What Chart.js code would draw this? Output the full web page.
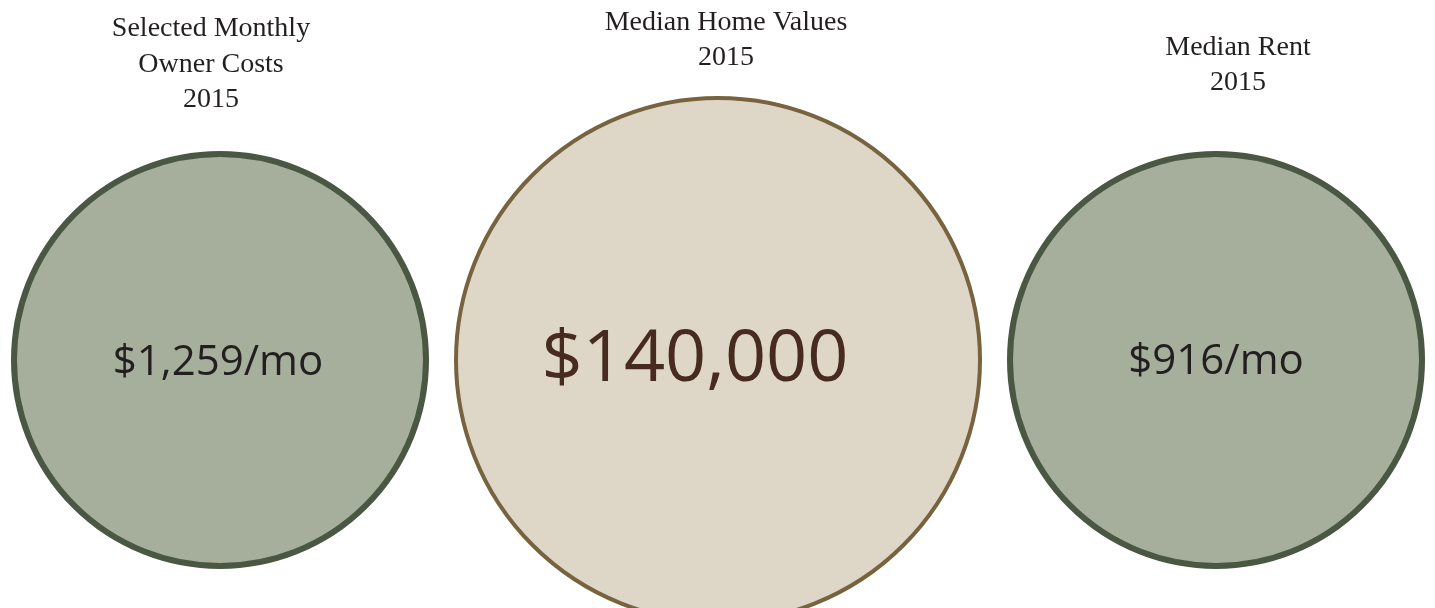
<!DOCTYPE html>
<html>
<head>
<meta charset="utf-8">
<script src="https://cdn.jsdelivr.net/npm/chart.js@4"></script>
<style>
  html, body { margin: 0; padding: 0; background: #fff; }
  #wrap { width: 1435px; height: 608px; }
</style>
</head>
<body>
<div id="wrap"><canvas id="circles"></canvas></div>
<script>
// data
const categories = ['Selected Monthly Owner Costs', 'Median Home Values', 'Median Rent'];
const titleLines = [
  ['Selected Monthly', 'Owner Costs', '2015'],
  ['Median Home Values', '2015'],
  ['Median Rent', '2015']
];
const values = [1259, 140000, 916];
const units = ['/mo', '', '/mo'];

// styles
const fills = ['#a6af9b', '#ded7c7', '#a6af9b'];
const borders = ['#4a5743', '#77643f', '#4a5743'];
const borderWidths = [6, 4, 6];
const radii = [206, 262, 206];
const textColors = ['#231f20', '#472b20', '#231f20'];
const valueFontSizes = [42, 72, 42];
const valueOffsetX = [-2, -23, 0];
const valueOffsetY = [15, 21, 14];
const titleOffsetX = [-9, 8, 22];
const titleBaselines = [[36, 72, 107], [30, 65], [55, 90]];

function fmtValue(v, unit) {
  return '$' + v.toLocaleString('en-US') + unit;
}

const textPlugin = {
  id: 'circleText',
  afterDatasetsDraw(chart) {
    const c = chart.ctx;
    const meta = chart.getDatasetMeta(0);
    c.save();
    c.textAlign = 'center';
    c.textBaseline = 'alphabetic';
    meta.data.forEach((pt, i) => {
      c.fillStyle = textColors[i];
      c.font = valueFontSizes[i] + 'px "Open Sans", sans-serif';
      c.fillText(fmtValue(values[i], units[i]), pt.x + valueOffsetX[i], pt.y + valueOffsetY[i]);

      c.fillStyle = '#231f20';
      c.font = '28px "Liberation Serif", serif';
      titleLines[i].forEach((line, j) => {
        c.fillText(line, pt.x + titleOffsetX[i], titleBaselines[i][j]);
      });
    });
    c.restore();
  }
};

const ctx = document.getElementById('circles').getContext('2d');
const chart = new Chart(ctx, {
  type: 'scatter',
  data: {
    labels: categories,
    datasets: [{
      data: categories.map(c => ({ x: c, y: 0 })),
      backgroundColor: fills,
      borderColor: borders,
      borderWidth: borderWidths,
      pointRadius: radii,
      pointHoverRadius: radii,
      clip: false
    }]
  },
  options: {
    responsive: true,
    maintainAspectRatio: false,
    animation: false,
    events: [],
    layout: { autoPadding: false, padding: { left: 220, right: 219, top: 112, bottom: 0 } },
    scales: {
      x: { type: 'category', offset: false, display: false },
      y: { min: -1, max: 1, display: false }
    },
    plugins: {
      legend: { display: false },
      tooltip: { enabled: false }
    }
  },
  plugins: [textPlugin]
});
</script>
</body>
</html>
